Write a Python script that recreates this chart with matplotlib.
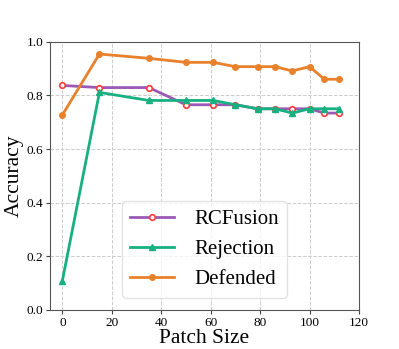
import matplotlib
matplotlib.use("Agg")
import matplotlib.pyplot as plt

patch_size = [0, 15, 35, 50, 61, 70, 79, 86, 93, 100, 106, 112]
rcfusion = [0.837, 0.829, 0.829, 0.765, 0.765, 0.765, 0.750, 0.750, 0.750, 0.750, 0.734, 0.734]
rejection = [0.109, 0.811, 0.781, 0.781, 0.781, 0.765, 0.750, 0.750, 0.734, 0.750, 0.750, 0.750]
defended = [0.727, 0.954, 0.938, 0.923, 0.923, 0.907, 0.907, 0.907, 0.891, 0.907, 0.860, 0.860]

plt.rcParams['font.family'] = ['Liberation Serif', 'DejaVu Serif']

fig = plt.figure(figsize=(3.99, 3.49), dpi=100)
ax = fig.add_axes([50/399, 1 - 310/349, (359-50)/399, (310-41.7)/349])

ax.plot(patch_size, rcfusion, color='#9b59b6', lw=2, marker='o', ms=4,
        mfc='white', mec='#ff3b3b', mew=1.2, label='RCFusion')
ax.plot(patch_size, rejection, color='#17b080', lw=2, marker='^', ms=4,
        label='Rejection')
ax.plot(patch_size, defended, color='#e8812b', lw=2, marker='o', ms=4,
        label='Defended')

ax.set_xlim(-5, 120)
ax.set_ylim(0, 1.0)
ax.set_xticks([0, 20, 40, 60, 80, 100, 120])
ax.set_yticks([0.0, 0.2, 0.4, 0.6, 0.8, 1.0])
ax.set_yticklabels(['0.0', '0.2', '0.4', '0.6', '0.8', '1.0'])
ax.tick_params(labelsize=9.5, length=3, color='#444444', pad=2)
ax.grid(True, ls='--', color='#cccccc', lw=0.7)
ax.set_axisbelow(True)
for s in ax.spines.values():
    s.set_color('#555555')

ax.set_xlabel('Patch Size', fontsize=15.5, labelpad=0)
ax.set_ylabel('Accuracy', fontsize=15.5, labelpad=2)

ax.legend(loc='lower center', fontsize=15, handlelength=2.1, framealpha=0.8,
          edgecolor='#dddddd', borderaxespad=0.6, labelspacing=0.5,
          handletextpad=1.0)

fig.savefig('out.png', dpi=100)
